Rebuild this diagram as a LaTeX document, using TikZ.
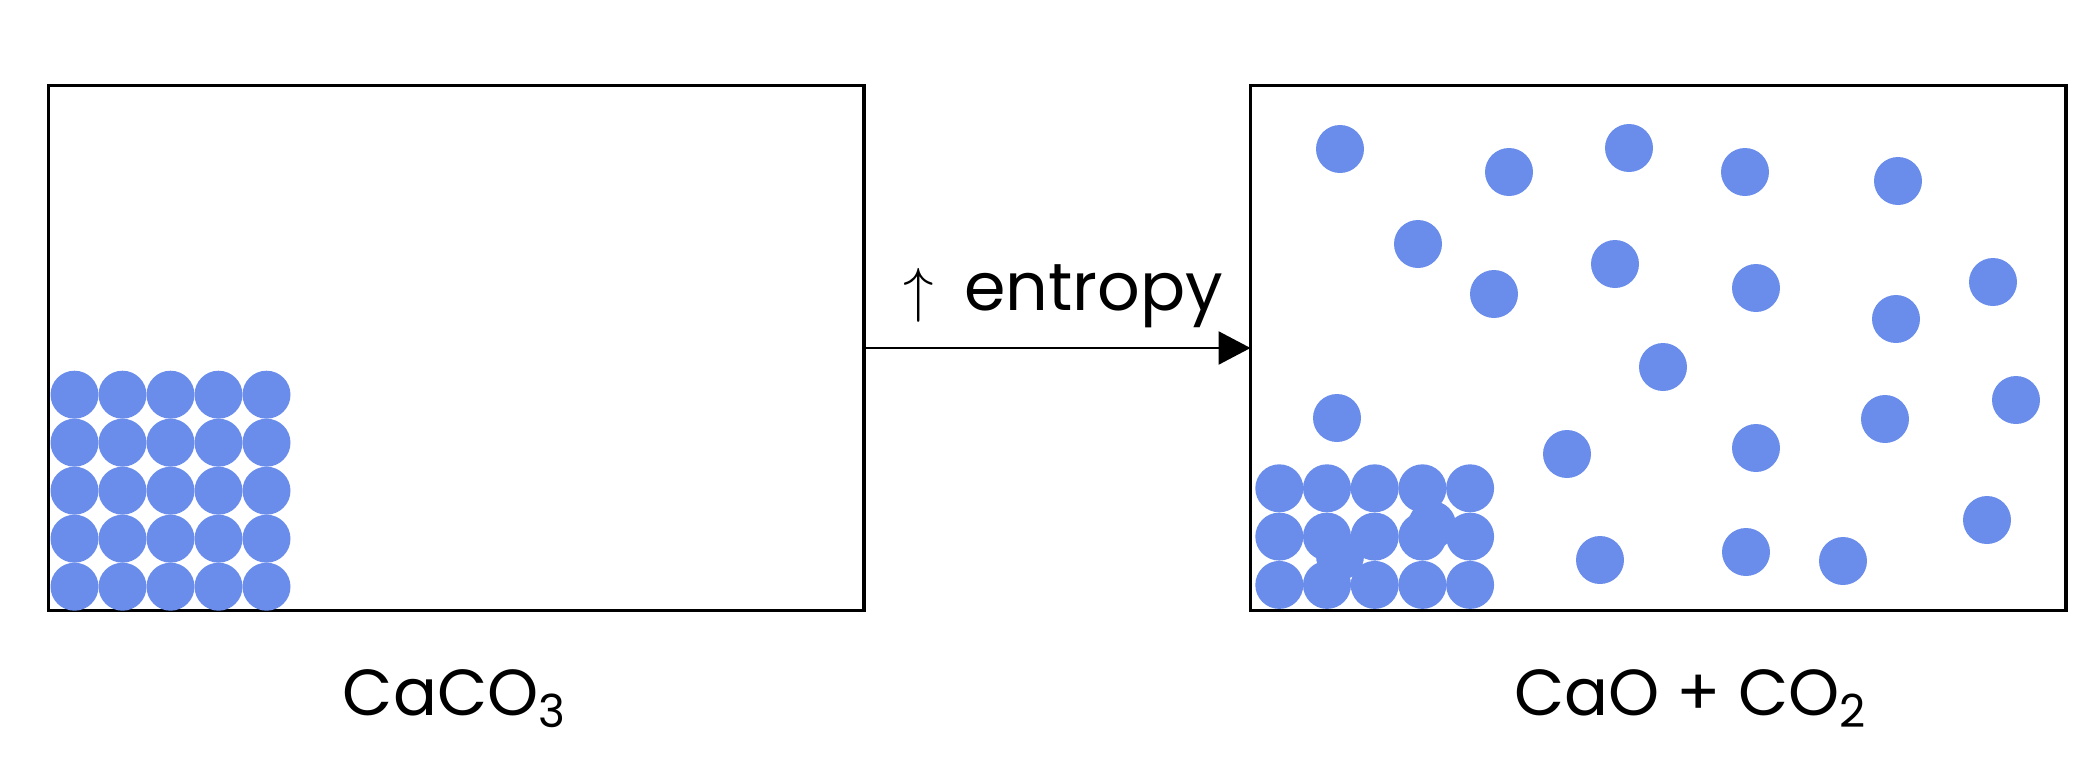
\documentclass[tikz,border=0pt]{standalone}
\usepackage{fontspec}
\setmainfont{Poppins}
\usetikzlibrary{arrows.meta}
\definecolor{ballblue}{RGB}{106,141,236}
\tikzstyle{vessel}=[draw, line width=1pt, inner sep=0pt, outer sep=0pt, minimum width=8.15cm, minimum height=5.25cm]
\tikzstyle{ball}=[fill=ballblue]
\tikzstyle{formula}=[inner sep=0pt, anchor=base, font=\fontsize{18.5}{20}\selectfont]

\begin{document}
\begin{tikzpicture}[>={Triangle[length=3.2mm,width=3.3mm]}, x=0.01cm, y=-0.01cm]
    \useasboundingbox (0,0) rectangle (2090,766);

    % Containers
    \draw (456,348) node[vessel] (solid) {};
    \draw (1658.25,348) node[vessel] (gas) {};

    % Reaction arrow
    \draw[->, line width=0.7pt] (solid.east) -- (gas.west);
    \draw (903,310) node[anchor=base west, inner sep=0pt, font=\fontsize{19}{20}\selectfont] (dS) {$\uparrow$\hspace{0.45em}entropy};

    % Packed solid
    \foreach \i in {0,...,4}
      \foreach \j in {0,...,4}
        \fill[ball] (74.5+48*\i, 394.7+48*\j) circle (24);

    % Leftover solid
    \foreach \i in {0,...,4}
      \foreach \j in {0,...,2}
        \fill[ball] (1279.3+47.7*\i, 488.3+48.3*\j) circle (24);
    \fill[ball] (1432,525) circle (24);
    \fill[ball] (1340,556) circle (24);

    % Gas
    \foreach \x/\y in {1340/149, 1509/172, 1629/148, 1745/172, 1898/181,
                       1418/244, 1615/264, 1494/294, 1756/288, 1993/282,
                       1896/319, 1663/367, 1337/418, 2016/400, 1885/419,
                       1567/454, 1756/448, 1987/520, 1600/560, 1746/552, 1843/561}
        \fill[ball] (\x,\y) circle (24);

    % Labels
    \draw (455,715) node[formula] (reactant) {CaCO\textsubscript{3}};
    \draw (1691,715) node[formula] (products) {CaO + CO\textsubscript{2}};
\end{tikzpicture}
\end{document}
